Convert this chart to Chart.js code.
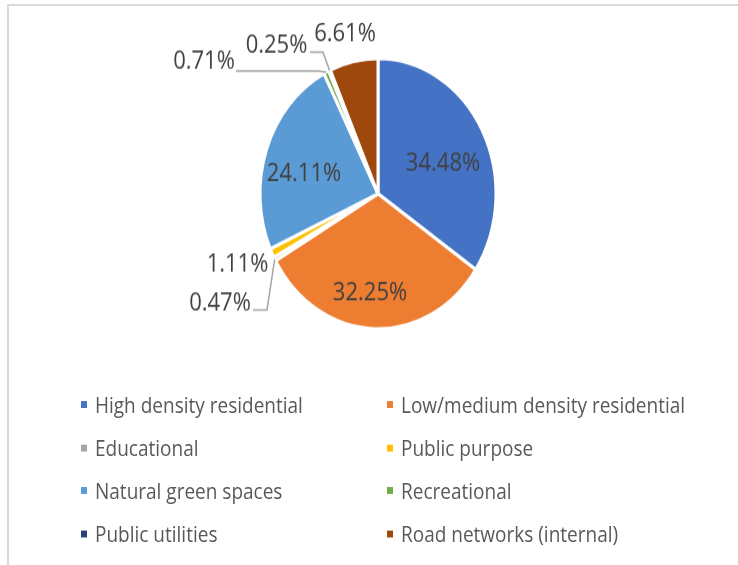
<!DOCTYPE html>
<html>
<head>
<meta charset="utf-8">
<script src="https://cdn.jsdelivr.net/npm/chart.js@4.4.1/dist/chart.umd.min.js"></script>
<style>
  body { margin: 0; background: #fff; width: 738px; height: 565px; overflow: hidden; position: relative; font-family: "Open Sans", Lato, sans-serif; }
  #frame { position: absolute; left: 7px; top: 4px; width: 800px; height: 700px; border: 2px solid #d9d9d9; box-sizing: border-box; }
  /* the chart is drawn a bit squat and stretched tall */
  #stage { position: absolute; left: 0; top: 0; width: 738px; height: 493px; transform: scaleY(1.146); transform-origin: 0 0; }
  #legend .item { position: absolute; display: flex; align-items: center; height: 24px; font-size: 19px; color: #595959; white-space: nowrap; }
  #legend .swatch { width: 6px; height: 6px; margin-right: 8px; }
</style>
</head>
<body>
<div id="frame"></div>
<div id="stage">
  <canvas id="landUse"></canvas>
  <div id="legend"></div>
</div>
<script>
const categories = [
  'High density residential',
  'Low/medium density residential',
  'Educational',
  'Public purpose',
  'Natural green spaces',
  'Recreational',
  'Public utilities',
  'Road networks (internal)'
];
const shares = [34.48, 32.25, 0.47, 1.11, 24.11, 0.71, 0.25, 6.61];
const colors = ['#4472C4', '#ED7D31', '#A5A5A5', '#FFC000', '#5B9BD5', '#70AD47', '#264478', '#9E480E'];

// where each percentage goes; small slices get a leader line (start x,y, elbow x,y)
const labelSpots = [
  { x: 443, y: 142.5 },
  { x: 370, y: 255.7 },
  { x: 220, y: 264.8, leader: [253, 270.5, 267, 270.5] },
  { x: 237.5, y: 230.8 },
  { x: 304, y: 151.8 },
  { x: 204, y: 53.7, leader: [236, 62, 318, 62] },
  { x: 276.5, y: 39.7, leader: [310, 45.6, 323, 45.6] },
  { x: 345, y: 30.1 }
];

const sliceLabels = {
  id: 'sliceLabels',
  afterDatasetsDraw(chart) {
    const ctx = chart.ctx;
    const arcs = chart.getDatasetMeta(0).data;
    ctx.save();
    ctx.font = '22px "Open Sans"';
    ctx.fillStyle = '#404040';
    ctx.strokeStyle = '#a6a6a6';
    ctx.lineWidth = 1.5;
    ctx.textAlign = 'center';
    ctx.textBaseline = 'middle';
    arcs.forEach((arc, i) => {
      const spot = labelSpots[i];
      ctx.fillText(shares[i].toFixed(2) + '%', spot.x, spot.y);
      if (spot.leader) {
        const mid = (arc.startAngle + arc.endAngle) / 2;
        const ex = arc.x + Math.cos(mid) * arc.outerRadius;
        const ey = arc.y + Math.sin(mid) * arc.outerRadius;
        ctx.beginPath();
        ctx.moveTo(spot.leader[0], spot.leader[1]);
        ctx.lineTo(spot.leader[2], spot.leader[3]);
        ctx.lineTo(ex, ey);
        ctx.stroke();
      }
    });
    ctx.restore();
  }
};

new Chart(document.getElementById('landUse'), {
  type: 'pie',
  data: {
    labels: categories,
    datasets: [{
      data: shares,
      backgroundColor: colors,
      borderColor: '#fff',
      borderWidth: 3
    }]
  },
  options: {
    responsive: true,
    maintainAspectRatio: false,
    animation: false,
    events: [],
    radius: 118,
    layout: { padding: { left: 18, bottom: 155 } },
    plugins: {
      legend: { display: false },
      tooltip: { enabled: false }
    }
  },
  plugins: [sliceLabels]
});

// two-column legend below the pie
const legend = document.getElementById('legend');
const colX = [81, 387];
const rowY = [352.5, 390.5, 428, 465.5];
categories.forEach((name, i) => {
  const item = document.createElement('div');
  item.className = 'item';
  item.style.left = colX[i % 2] + 'px';
  item.style.top = (rowY[Math.floor(i / 2)] - 12) + 'px';
  const sw = document.createElement('span');
  sw.className = 'swatch';
  sw.style.background = colors[i];
  item.appendChild(sw);
  item.appendChild(document.createTextNode(name));
  legend.appendChild(item);
});
</script>
</body>
</html>
